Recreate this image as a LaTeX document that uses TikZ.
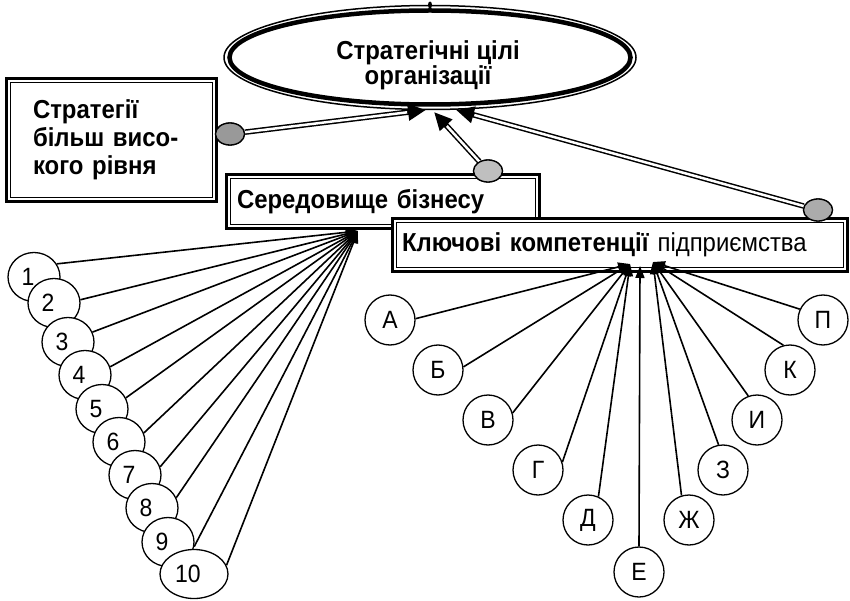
\documentclass[tikz,border=0pt]{standalone}
\usepackage{fontspec}
\setmainfont{Liberation Sans}[FakeStretch=0.92]
\usetikzlibrary{shapes.geometric,arrows.meta}
\newcommand{\shl}[1]{\kern-6pt#1\kern6pt}
\begin{document}
\begin{tikzpicture}[x=1pt,y=-1pt,
  big/.style={font=\fontsize{26}{28}\selectfont},
  small/.style={font=\fontsize{25}{28}\selectfont},
  title/.style={font=\fontsize{26}{28}\selectfont\bfseries},
  frame/.style={draw, line width=3pt, fill=white, inner ysep=0pt, align=left},
  inframe/.style={line width=1.5pt},
  num/.style={draw, ellipse, line width=1.3pt, fill=white, inner sep=0pt, minimum width=52pt, minimum height=49pt, small},
  let/.style={draw, circle, line width=1.3pt, fill=white, inner sep=0pt, minimum size=50pt, small},
  dotc/.style={draw, ellipse, line width=1.3pt, minimum width=29pt, minimum height=22pt, inner sep=0pt},
  conn/.style={line width=5.5pt, -{Triangle[length=18pt,width=16pt]}},
  conninner/.style={white, line width=2.5pt, shorten >=19pt},
  fan/.style={line width=1.6pt, -{Triangle[length=12pt,width=9pt]}}
]
\useasboundingbox (0,0) rectangle (850,601);

% goal ellipse
\node[draw, ellipse, line width=1.5pt, minimum width=412pt, minimum height=104pt, inner sep=0pt] (E) at (430,57.5) {};
\draw[line width=4.5pt] (E.center) ellipse [x radius=200.5pt, y radius=47pt];
\node[align=center, title, font=\fontsize{26}{21}\selectfont\bfseries, inner sep=0pt] (Etxt) at (428,65) {Стратегічні цілі\\організації};
\fill (430,5) ellipse [x radius=2pt, y radius=3.5pt];

% boxes
\node[frame, minimum width=210pt, minimum height=123pt, text width=157pt, inner xsep=26.5pt, title] (B1) at (111.5,140) {Стратегії\\більш висо-\\кого рівня};
\draw[inframe] ([shift={(5.5pt,5.5pt)}]B1.south west) rectangle ([shift={(-5.5pt,-5.5pt)}]B1.north east);

\node[frame, minimum height=54pt, text width=292pt, inner xsep=10.5pt, title] (B2) at (383,201.5) {Середовище бізнесу};
\draw[inframe] ([shift={(5.5pt,5.5pt)}]B2.south west) rectangle ([shift={(-5.5pt,-5.5pt)}]B2.north east);

\node[frame, minimum height=53pt, text width=436pt, inner xsep=9.5pt, big] (B3) at (620,245) {\textbf{Ключові компетенції} підприємства};
\draw[inframe] ([shift={(5.5pt,5.5pt)}]B3.south west) rectangle ([shift={(-5.5pt,-5.5pt)}]B3.north east);

% dots and double connectors
\node[dotc] (D1) at (230,134) {};
\node[dotc] (D2) at (488,171) {};
\node[dotc] (D3) at (818,210) {};
\coordinate (t1) at (426,110);
\coordinate (t2) at (434,112);
\coordinate (t3) at (456,110);
\foreach \d/\t in {D1/t1,D2/t2,D3/t3}{
  \draw[conn] (\d) -- (\t);
  \draw[conninner] (\d) -- (\t);
}
\node[dotc, fill=black!40] at (D1) {};
\node[dotc, fill=black!25] at (D2) {};
\node[dotc, fill=black!33] at (D3) {};

% left fan
\coordinate (tn) at (358,231);
\foreach \i/\x/\y in {1/34/277,2/54/303,3/68/342,4/85/375,5/102/409,6/119/442,7/135/475,8/152/508,9/168/542}{
  \node[num] (n\i) at (\x,\y) {\shl{\i}};
}
\node[num, minimum width=68pt] (n10) at (194,574) {\shl{10}};
\foreach \i/\a in {1/30,2/7,3/22,4/18,5/25,6/20,7/18,8/23,9/-10,10/15}{
  \draw[fan] (n\i.\a) -- (tn);
}

% right fan
\coordinate (tL) at (630,264);
\coordinate (tE) at (640,266);
\coordinate (tR) at (653,262);
\node[let] (cA) at (390,320) {А};
\node[let] (cB) at (438,370) {Б};
\node[let] (cV) at (488,420) {В};
\node[let] (cG) at (538,470) {Г};
\node[let] (cD) at (588,520) {Д};
\node[let] (cE) at (639,572) {Е};
\node[let] (cZh) at (689,520) {Ж};
\node[let] (cZ) at (723,470) {З};
\node[let] (cI) at (757,420) {И};
\node[let] (cK) at (790,370) {К};
\node[let] (cP) at (823,320) {П};
\foreach \c/\a in {cA/3,cB/7,cV/16,cG/18,cD/66}{ \draw[fan] (\c.\a) -- (tL); }
\draw[fan] (cE.90) -- (tE);
\foreach \c/\a in {cZh/107,cZ/100,cI/110,cK/105,cP/155}{ \draw[fan] (\c.\a) -- (tR); }
\end{tikzpicture}
\end{document}
